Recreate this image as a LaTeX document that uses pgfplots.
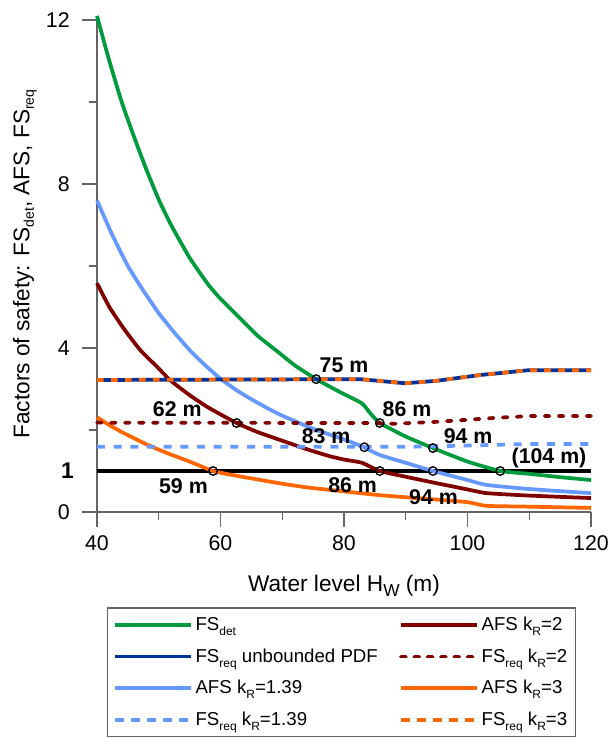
\documentclass[border=0pt]{standalone}
\usepackage{fontspec}
\setmainfont{Liberation Sans}
\usepackage{pgfplots}
\pgfplotsset{compat=1.18}
\definecolor{cgreen}{RGB}{0,155,60}
\definecolor{cdblue}{RGB}{0,51,153}
\definecolor{clblue}{RGB}{102,153,255}
\definecolor{cdred}{RGB}{128,0,0}
\definecolor{corange}{RGB}{255,102,0}
\definecolor{caxis}{RGB}{100,100,100}
\newcommand{\sub}[2][9]{\raisebox{-3.5pt}{\fontsize{#1}{#1}\selectfont #2}}
\begin{document}
\begin{tikzpicture}
\useasboundingbox (-72.75pt,-169.5pt) rectangle (385.5pt,384pt);
\begin{axis}[
  at={(0,0)}, anchor=south west,
  scale only axis, width=370.5pt, height=369pt,
  xmin=40, xmax=120, ymin=0, ymax=12,
  axis x line=bottom, axis y line=left,
  axis line style={draw=caxis, line width=0.8pt, -},
  tick align=outside,
  xtick={40,60,...,120}, minor xtick={50,70,90,110},
  ytick={0,4,8,12}, minor ytick={2,6,10},
  major tick length=11pt, minor tick length=6pt,
  every tick/.style={draw=caxis, line width=0.8pt},
  /pgf/number format/assume math mode=true,
  tick label style={font=\fontsize{16}{16}\selectfont},
  yticklabel style={xshift=-6pt},
  xticklabel style={yshift=-3pt},
  xlabel={Water level H\sub[13]{W} (m)},
  ylabel={Factors of safety: FS\sub[10.5]{det}, AFS, FS\sub[10.5]{req}},
  label style={font=\fontsize{17}{17}\selectfont},
  xlabel style={at={(axis description cs:0.5,-0.15)}, anchor=center},
  ylabel style={at={(axis description cs:-0.146,0.504)}, anchor=center},
  extra y ticks={1}, extra y tick labels={\textbf{1}},
  extra y tick style={major tick style={draw=none}, yticklabel style={xshift=3pt}, tick label style={font=\fontsize{17}{17}\selectfont}},
  clip=false,
  legend style={at={(axis description cs:0.0208,-0.194)}, anchor=north west,
    draw=caxis, line width=0.8pt, fill=white,
    font=\fontsize{14}{17}\selectfont,
    nodes={inner xsep=2pt},
    /tikz/column 2/.style={column sep=14pt},
    inner xsep=4pt, inner ysep=5pt, row sep=8pt},
  legend columns=2, legend cell align=left,
  legend image code/.code={\draw[#1] (0pt,0pt) -- (57pt,0pt);},
]
% reference line FS = 1
\addplot[black, line width=2.8pt, forget plot] coordinates {(40,1) (120,1)};
% FS_det
\addplot[cgreen, line width=2.8pt, smooth, tension=0.3, forget plot] coordinates {
(40,12.1) (42,11.0) (44,10.0) (46,9.15) (48,8.35) (50,7.62) (52,7.0) (55,6.2) (58,5.55) (60,5.2) (63,4.75) (66,4.3) (69.6,3.87) (72,3.58) (75.5,3.24) (79.4,2.92) (82.9,2.65) (84.3,2.4) (85.8,2.17) (90,1.84) (94.4,1.56) (100,1.23) (105.3,1.0) (110,0.93) (115,0.85) (120,0.78)};
% AFS kR=1.39
\addplot[clblue, line width=2.8pt, smooth, tension=0.3, forget plot] coordinates {
(40,7.6) (42.5,6.75) (45,6.0) (47.5,5.4) (50,4.85) (52.5,4.38) (55,3.95) (57.5,3.58) (60,3.25) (62.5,2.98) (65,2.75) (67.5,2.54) (70,2.35) (75,2.03) (80,1.77) (82.9,1.6) (85.8,1.39) (90,1.2) (94.4,1.0) (100,0.78) (103.1,0.66) (110,0.56) (120,0.46)};
% AFS kR=2
\addplot[cdred, line width=2.8pt, smooth, tension=0.3, forget plot] coordinates {
(40,5.58) (42,5.0) (44.3,4.48) (47,3.95) (50,3.5) (51.8,3.22) (55,2.85) (58,2.55) (62.6,2.17) (66,1.95) (69.6,1.76) (74,1.53) (77.7,1.36) (80,1.28) (82.9,1.2) (85.8,1.0) (90,0.86) (94.4,0.72) (100,0.55) (103.1,0.46) (110,0.4) (120,0.34)};
% AFS kR=3
\addplot[corange, line width=2.8pt, smooth, tension=0.3, forget plot] coordinates {
(40,2.31) (42,2.12) (44,1.95) (46,1.8) (48,1.65) (50,1.52) (52,1.4) (55,1.23) (58.8,1.0) (62,0.9) (65,0.82) (69.6,0.7) (74,0.6) (77.7,0.54) (82,0.47) (85.8,0.41) (90,0.36) (94.4,0.31) (100,0.24) (103.1,0.15) (110,0.13) (120,0.1)};
% FS_req kR=1.39
\addplot[clblue, line width=2.8pt, dash pattern=on 6pt off 6.5pt, forget plot] coordinates {
(40,1.59) (90,1.59) (100,1.62) (110,1.66) (120,1.66)};
% FS_req kR=2
\addplot[cdred, line width=2.8pt, line cap=round, dash pattern=on 3.5pt off 7pt, forget plot] coordinates {
(40,2.18) (85,2.17) (88,2.15) (95,2.2) (100,2.25) (105,2.3) (110,2.34) (120,2.34)};
% FS_req unbounded PDF
\addplot[cdblue, line width=2.8pt, forget plot] coordinates {
(40,3.22) (82.6,3.24) (89.9,3.14) (95,3.2) (102,3.34) (110,3.46) (120,3.46)};
% FS_req kR=3
\addplot[corange, line width=2.8pt, dash pattern=on 5pt off 5.5pt, forget plot] coordinates {
(40,3.22) (82.6,3.24) (89.9,3.14) (95,3.2) (102,3.34) (110,3.46) (120,3.46)};
% intersection markers
\addplot[only marks, mark=o, mark size=3.2pt, mark options={black, line width=1pt}, forget plot] coordinates {
(75.5,3.24) (62.6,2.17) (58.8,1.0) (83.3,1.58) (85.8,2.17) (85.8,1.0) (94.4,1.0) (94.4,1.56) (105.3,1.0)};
% labels
\begin{scope}[every node/.style={font=\fontsize{16}{16}\selectfont\bfseries}]
\node at (axis cs:80.0,3.57) {75 m};
\node at (axis cs:53.0,2.51) {62 m};
\node at (axis cs:54.0,0.64) {59 m};
\node at (axis cs:77.1,1.84) {83 m};
\node at (axis cs:90.2,2.50) {86 m};
\node at (axis cs:100.1,1.86) {94 m};
\node at (axis cs:113.2,1.32) {(104 m)};
\node at (axis cs:81.4,0.66) {86 m};
\node at (axis cs:94.5,0.36) {94 m};
\end{scope}
% legend
\addlegendimage{cgreen, line width=2.8pt}
\addlegendentry{FS\sub{det}}
\addlegendimage{cdred, line width=2.8pt}
\addlegendentry{AFS k\sub{R}=2}
\addlegendimage{cdblue, line width=2.8pt}
\addlegendentry{FS\sub{req} unbounded PDF}
\addlegendimage{cdred, line width=2.8pt, line cap=round, dash pattern=on 3.5pt off 6.5pt}
\addlegendentry{FS\sub{req} k\sub{R}=2}
\addlegendimage{clblue, line width=2.8pt}
\addlegendentry{AFS k\sub{R}=1.39}
\addlegendimage{corange, line width=2.8pt}
\addlegendentry{AFS k\sub{R}=3}
\addlegendimage{clblue, line width=2.8pt, dash pattern=on 7pt off 5pt}
\addlegendentry{FS\sub{req} k\sub{R}=1.39}
\addlegendimage{corange, line width=2.8pt, dash pattern=on 7pt off 5pt}
\addlegendentry{FS\sub{req} k\sub{R}=3}
\end{axis}
\end{tikzpicture}
\end{document}
